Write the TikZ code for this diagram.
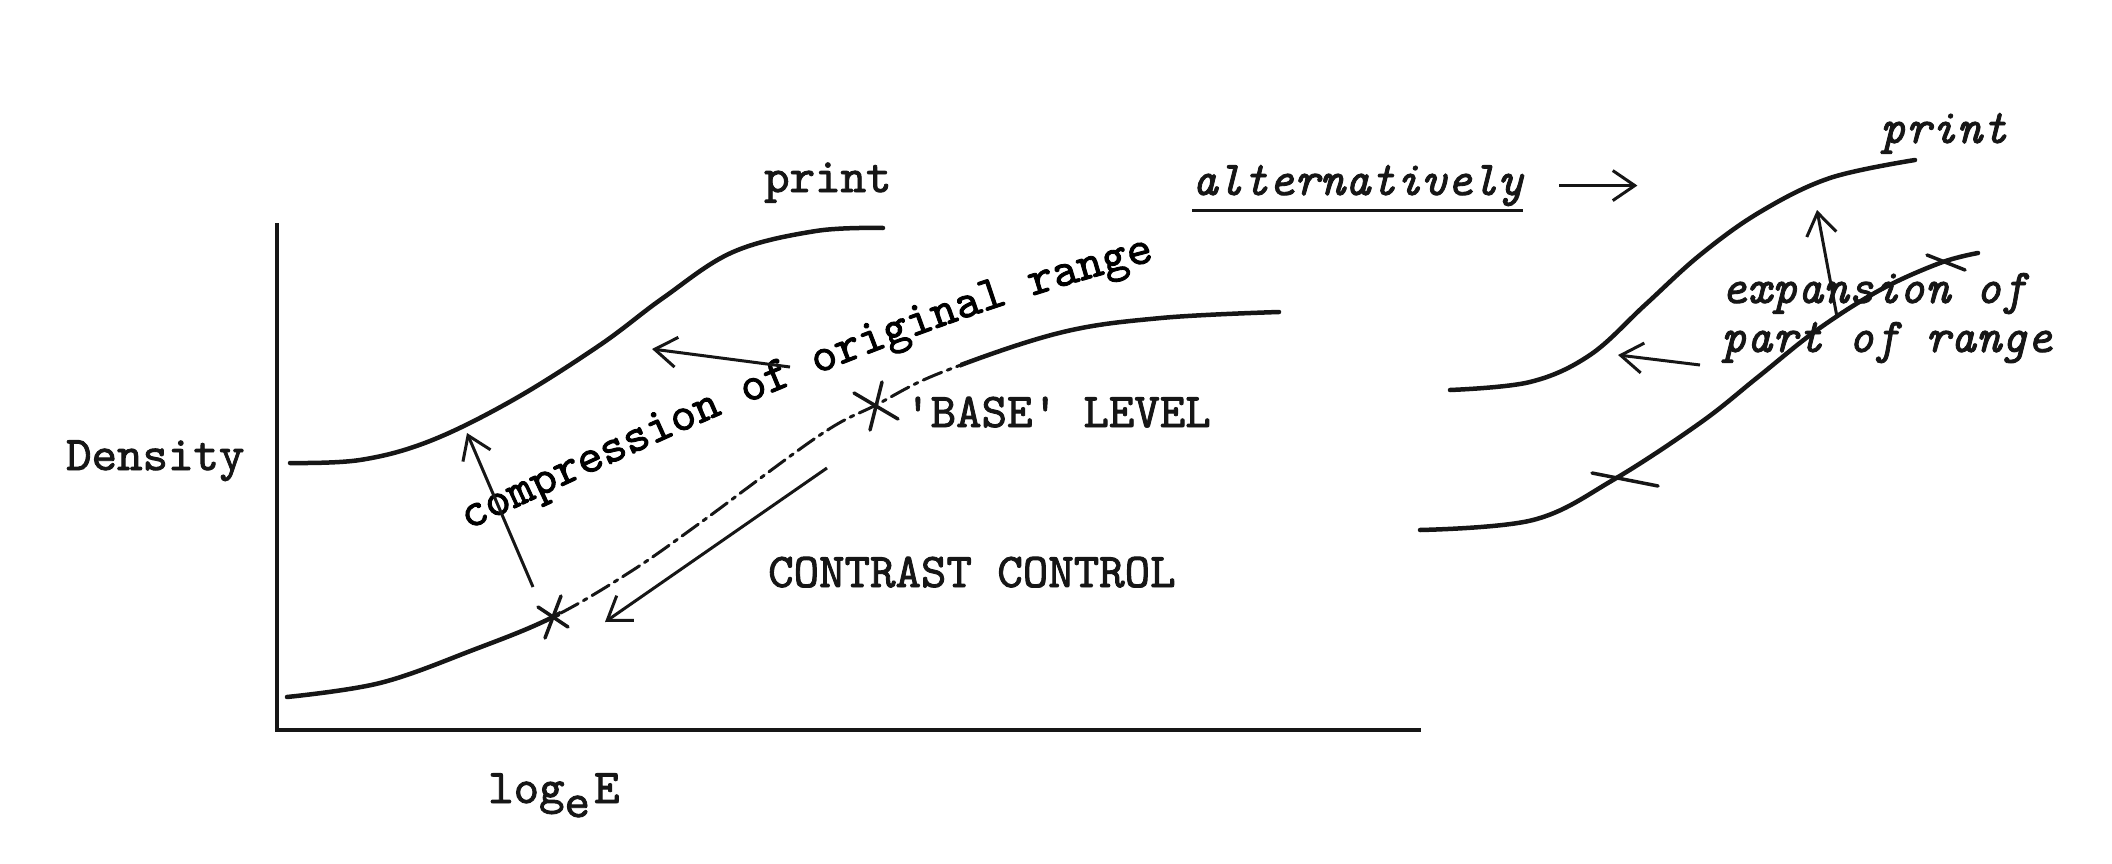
\documentclass[tikz,border=0pt]{standalone}
\usepackage{fontspec}
\usetikzlibrary{calc}
\usetikzlibrary{positioning}
\usetikzlibrary{arrows.meta}
\usetikzlibrary{decorations.text}
\newfontfamily\typedFamily{lmmono10-regular.otf}[ItalicFont=lmmono10-italic.otf, RawFeature={embolden=1.8}]
\definecolor{inkBlack}{HTML}{161616}
\newcommand{\typedFont}{\typedFamily\fontsize{48.5}{56}\selectfont}
\newcommand{\crossmark}[4]{
    \coordinate (#1) at (#2);
    \draw [mark_line] ($(#1)-(#3)$) -- ($(#1)+(#3)$);
    \draw [mark_line] ($(#1)-(#4)$) -- ($(#1)+(#4)$);
}
\newcommand{\originalCurve}{plot [smooth, tension=0.6] coordinates {(287,697) (380,683) (473,650) (553,617) (630,572) (700,523) (820,435) (876,405) (940,373) (1059,333) (1161,318) (1279,312)}}

\begin{document}
\begin{tikzpicture}[x=1pt, y=-1pt, inner sep=0pt,
    curve/.style={line width=4.5pt, draw=inkBlack, line cap=round},
    axis_line/.style={line width=4pt, draw=inkBlack},
    arrow_line/.style={line width=3pt, draw=inkBlack, -{Straight Barb[length=22pt, width=30pt, line width=3pt]}},
    mark_line/.style={line width=3.5pt, draw=inkBlack, line cap=round},
    typed/.style={font=\typedFont, text=inkBlack, anchor=base west},
    typed_it/.style={font=\typedFont\itshape, text=inkBlack, anchor=base west}]
    \useasboundingbox (0,0) rectangle (2112,864);

    % axes
    \coordinate (y_top) at (277,223);
    \coordinate (origin) at (277,730);
    \coordinate (x_end) at (1421,730);
    \draw [axis_line] (y_top) -- (origin) -- (x_end);

    \node [typed] (density) at (66,470) {Density};
    \node [typed] (log_e) at (488,803) {log\raisebox{-14pt}{e}\hspace{4pt}E};
    \node [typed] (print_left) at (764,192) {print};
    \node [typed] (base_level) at (905,427) {'BASE' LEVEL};
    \node [typed] (contrast) at (768,587) {CONTRAST CONTROL};

    % print curve and original curve
    \draw [curve] plot [smooth, tension=0.6] coordinates {(290,463) (360,460) (430,441) (513,400) (600,345) (663,298) (733,252) (816,231) (883,228)};
    \begin{scope}
        \clip (0,0) rectangle (560,864) (960,0) rectangle (2112,864);
        \draw [curve] \originalCurve;
    \end{scope}
    \begin{scope}
        \clip (560,0) rectangle (960,864);
        \draw [curve, line width=3pt, dash pattern=on 20pt off 6pt on 4pt off 6pt] \originalCurve;
    \end{scope}

    \crossmark{low_x}{553,617}{15,10}{8,-21}
    \crossmark{base_x}{876,406}{22,13}{6,-24}

    \path [decorate, decoration={text along path, text={|\typedFont|compression of original range}}] (468,530) .. controls (645,448) and (910,318) .. (1190,252);

    \coordinate (cmp_up_from) at (533,587);
    \coordinate (cmp_up_to) at (467,433);
    \coordinate (cmp_left_from) at (790,367);
    \coordinate (cmp_left_to) at (652,349);
    \coordinate (contrast_from) at (827,468);
    \coordinate (contrast_to) at (605,622);
    \draw [arrow_line] (cmp_up_from) -- (cmp_up_to);
    \draw [arrow_line] (cmp_left_from) -- (cmp_left_to);
    \draw [arrow_line] (contrast_from) -- (contrast_to);

    % alternative
    \node [typed_it] (alt_lbl) at (1192,195) {alternatively};
    \draw [line width=3pt, draw=inkBlack] ([yshift=-4pt]alt_lbl.south west) -- ([yshift=-4pt]alt_lbl.south east);
    \draw [arrow_line] ([xshift=36pt]alt_lbl.east) -- ([xshift=114pt]alt_lbl.east);

    \node [typed_it] (print_right) at (1880,143) {print};
    \node [typed_it] (exp_lbl) at (1721,303) {expansion of};
    \node [typed_it] (part_lbl) at ([yshift=-49pt]exp_lbl.base west) {part of range};

    \draw [curve] plot [smooth, tension=0.6] coordinates {(1450,390) (1530,382) (1590,355) (1645,305) (1700,255) (1760,212) (1830,178) (1915,160)};
    \draw [curve] plot [smooth, tension=0.6] coordinates {(1420,530) (1533,520) (1613,480) (1700,423) (1758,377) (1817,330) (1880,290) (1940,263) (1978,253)};

    \coordinate (tick_low) at (1620,479);
    \draw [mark_line] ($(tick_low)+(-28,-6)$) -- ($(tick_low)+(38,7)$);
    \coordinate (tick_high) at (1945,262);
    \draw [mark_line] ($(tick_high)+(-18,-7)$) -- ($(tick_high)+(20,8)$);

    \coordinate (exp_up_from) at (1837,317);
    \coordinate (exp_up_to) at (1817,210);
    \coordinate (exp_left_from) at (1700,365);
    \coordinate (exp_left_to) at (1618,355);
    \draw [arrow_line] (exp_up_from) -- (exp_up_to);
    \draw [arrow_line] (exp_left_from) -- (exp_left_to);
\end{tikzpicture}
\end{document}
